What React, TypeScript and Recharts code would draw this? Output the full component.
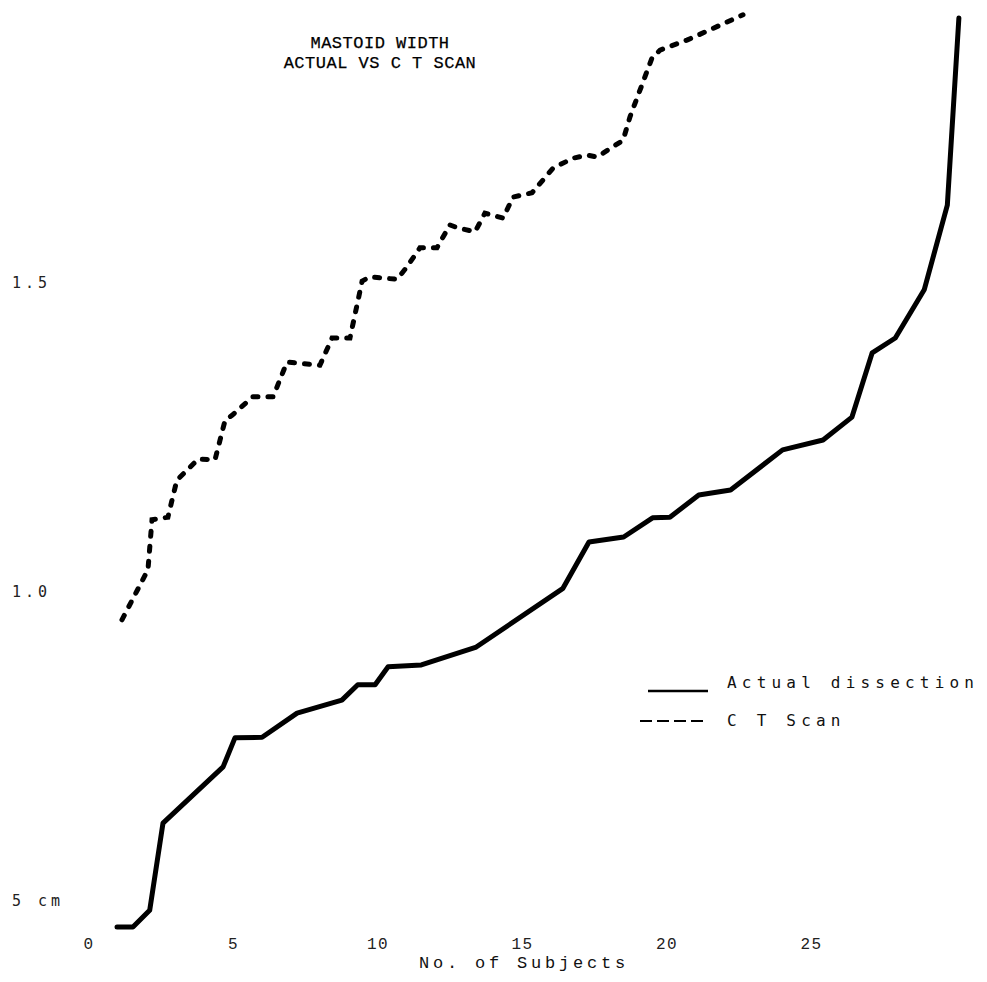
import React from 'react';
import { LineChart, Line, XAxis, YAxis } from 'recharts';

const actualX = [0.97, 1.52, 2.1, 2.56, 4.64, 5.05, 5.99, 7.2, 8.75, 9.3, 9.9, 10.35, 11.5, 13.4, 16.4, 17.3, 18.5, 19.5, 20.1, 21.1, 22.2, 24.0, 25.4, 26.4, 27.1, 27.9, 28.9, 29.7, 30.1];
const actualY = [0.458, 0.458, 0.485, 0.626, 0.717, 0.764, 0.765, 0.804, 0.825, 0.85, 0.85, 0.879, 0.882, 0.911, 1.006, 1.081, 1.089, 1.12, 1.121, 1.157, 1.165, 1.23, 1.246, 1.283, 1.387, 1.411, 1.489, 1.626, 1.929];

const ctX = [1.14, 2.04, 2.18, 2.73, 3.04, 3.39, 3.77, 4.36, 4.71, 4.95, 5.67, 6.37, 6.85, 7.99, 8.41, 9.03, 9.45, 9.72, 10.66, 11.0, 11.45, 12.04, 12.49, 12.77, 13.36, 13.7, 14.33, 14.67, 15.33, 16.06, 16.75, 17.23, 17.58, 18.48, 18.72, 19.48, 19.76, 20.69, 22.63];
const ctY = [0.955, 1.036, 1.117, 1.121, 1.181, 1.197, 1.215, 1.214, 1.278, 1.286, 1.316, 1.316, 1.372, 1.367, 1.411, 1.411, 1.503, 1.51, 1.506, 1.526, 1.557, 1.557, 1.594, 1.589, 1.583, 1.613, 1.605, 1.639, 1.646, 1.686, 1.702, 1.707, 1.704, 1.731, 1.769, 1.864, 1.877, 1.893, 1.934];

const xTicks = [0, 5, 10, 15, 20, 25];
const yTicks = [0.5, 1.0, 1.5];
const yTickLabels = ['5 cm', '1.0', '1.5'];
const titleLines = ['MASTOID WIDTH', 'ACTUAL VS C T SCAN'];
const seriesNames = ['Actual dissection', 'C T Scan'];
const xAxisTitle = 'No. of Subjects';

const actualData = actualX.map((x, i) => ({ x, v: actualY[i] }));
const ctData = ctX.map((x, i) => ({ x, v: ctY[i] }));

const YTick = (props: any) => {
  const { y, payload } = props;
  const idx = yTicks.indexOf(payload.value);
  return (
    <text x={4} y={y} dy={5} textAnchor="start" fontFamily="'DejaVu Sans Mono', monospace" fontSize={15} letterSpacing={4} fill="#222">
      {idx >= 0 ? yTickLabels[idx] : ''}
    </text>
  );
};

export default function App() {
  return (
    <div style={{ position: 'relative', width: 979, height: 974, background: '#fff' }}>
      <LineChart width={979} height={974} margin={{ top: 3.1, right: 2.1, bottom: 0, left: 0 }}>
        <XAxis
          type="number"
          dataKey="x"
          domain={[0, 31]}
          ticks={xTicks}
          axisLine={false}
          tickLine={false}
          tickSize={0}
          tickMargin={3}
          height={47}
          tick={{ fontFamily: "'Liberation Mono', monospace", fontSize: 16, fill: '#222', letterSpacing: 1.5 }}
        />
        <YAxis
          type="number"
          domain={[0.445, 1.94]}
          ticks={yTicks}
          axisLine={false}
          tickLine={false}
          width={81}
          tick={<YTick />}
        />
        <Line data={actualData} dataKey="v" type="linear" stroke="#000" strokeWidth={5} dot={false} strokeLinejoin="round" strokeLinecap="round" isAnimationActive={false} />
        <Line data={ctData} dataKey="v" type="linear" stroke="#000" strokeWidth={5} strokeDasharray="5 10" strokeLinecap="round" dot={false} isAnimationActive={false} />
      </LineChart>
      <svg width={979} height={974} style={{ position: 'absolute', left: 0, top: 0, pointerEvents: 'none' }}>
        <g fontFamily="'Liberation Mono', monospace" fontSize={17} fill="#000" stroke="#000" strokeWidth={0.25} textAnchor="middle" letterSpacing={0.5}>
          <text x={372} y={40}>{titleLines[0]}</text>
          <text x={372} y={60}>{titleLines[1]}</text>
        </g>
        <text x={516} y={960} textAnchor="middle" fontFamily="'Liberation Mono', monospace" fontSize={17} letterSpacing={3.8} fill="#111">{xAxisTitle}</text>
        <line x1={640} x2={700} y1={683} y2={683} stroke="#000" strokeWidth={2.5} />
        <text x={719} y={680} fontFamily="'DejaVu Sans Mono', monospace" fontSize={16} letterSpacing={5.2} fill="#111">{seriesNames[0]}</text>
        <line x1={632} x2={698} y1={713} y2={713} stroke="#000" strokeWidth={2} strokeDasharray="12 5" />
        <text x={719} y={718} fontFamily="'DejaVu Sans Mono', monospace" fontSize={16} letterSpacing={5.2} fill="#111">{seriesNames[1]}</text>
      </svg>
    </div>
  );
}
